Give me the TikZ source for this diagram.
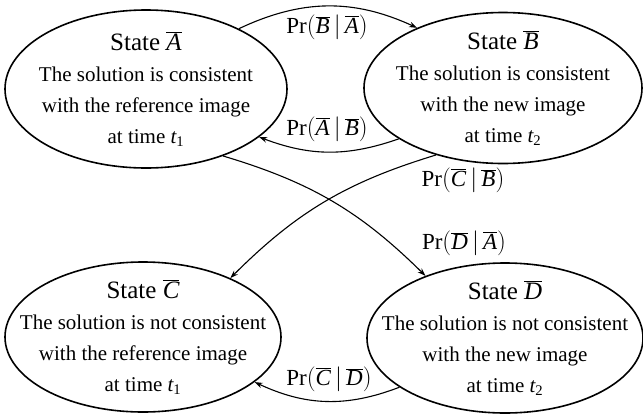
\documentclass[tikz,border=0pt]{standalone}
\usepackage{fontspec}
\setmainfont{Liberation Serif}
\usetikzlibrary{shapes.geometric,arrows.meta}
\newcommand{\sbar}[1]{$\overline{\mathit{#1}}$}
\newcommand{\prob}[2]{$\mathrm{Pr}\!\left(\overline{\mathit{#1}}\,|\,\overline{\mathit{#2}}\right)$}
\begin{document}
\begin{tikzpicture}[x=1pt, y=-1pt, >={Stealth[length=8pt,width=5.5pt]},
	state/.style={ellipse, draw, line width=1.6pt, inner xsep=-60pt, inner ysep=-20pt, align=center, font=\fontsize{21}{31}\selectfont},
	trans/.style={->, line width=1.1pt},
	lab/.style={font=\fontsize{23}{27}\selectfont, inner sep=1pt}]
	% 1. 画布范围
	\useasboundingbox (0,0) rectangle (643,413);
	
	% 2. 四个状态
	\node[state, minimum width=282, minimum height=158] (A) at (146,89) {{\fontsize{25}{31}\selectfont State \sbar{A}}\\ The solution is consistent\\ with the reference image\\ at time $\mathit{t}_{\mathrm{1}}$};
	\node[state, minimum width=278, minimum height=151] (B) at (503,88) {{\fontsize{25}{31}\selectfont State \sbar{B}}\\ The solution is consistent\\ with the new image\\ at time $\mathit{t}_{\mathrm{2}}$};
	\node[state, minimum width=276, minimum height=150] (C) at (143,337) {{\fontsize{25}{31}\selectfont State \sbar{C}}\\ The solution is not consistent\\ with the reference image\\ at time $\mathit{t}_{\mathrm{1}}$};
	\node[state, minimum width=276, minimum height=150] (D) at (505,338) {{\fontsize{25}{31}\selectfont State \sbar{D}}\\ The solution is not consistent\\ with the new image\\ at time $\mathit{t}_{\mathrm{2}}$};
	
	% 3. 转移箭头
	\draw[trans] (A.33) to[bend left=25] (B.145);
	\draw[trans] (B.206) to[bend left=20] (A.337);
	\draw[trans] (A.319) to[bend left=14] (D.142);
	\draw[trans] (B.225) to[bend right=14] (C.34);
	\draw[trans] (D.205) to[bend left=23] (C.338);
	
	% 4. 概率标号
	\node[lab] (pba) at (327,27) {\prob{B}{A}};
	\node[lab] (pab) at (327,129) {\prob{A}{B}};
	\node[lab] (pcb) at (463,180) {\prob{C}{B}};
	\node[lab] (pda) at (464,243) {\prob{D}{A}};
	\node[lab] (pcd) at (329,379) {\prob{C}{D}};
\end{tikzpicture}
\end{document}
